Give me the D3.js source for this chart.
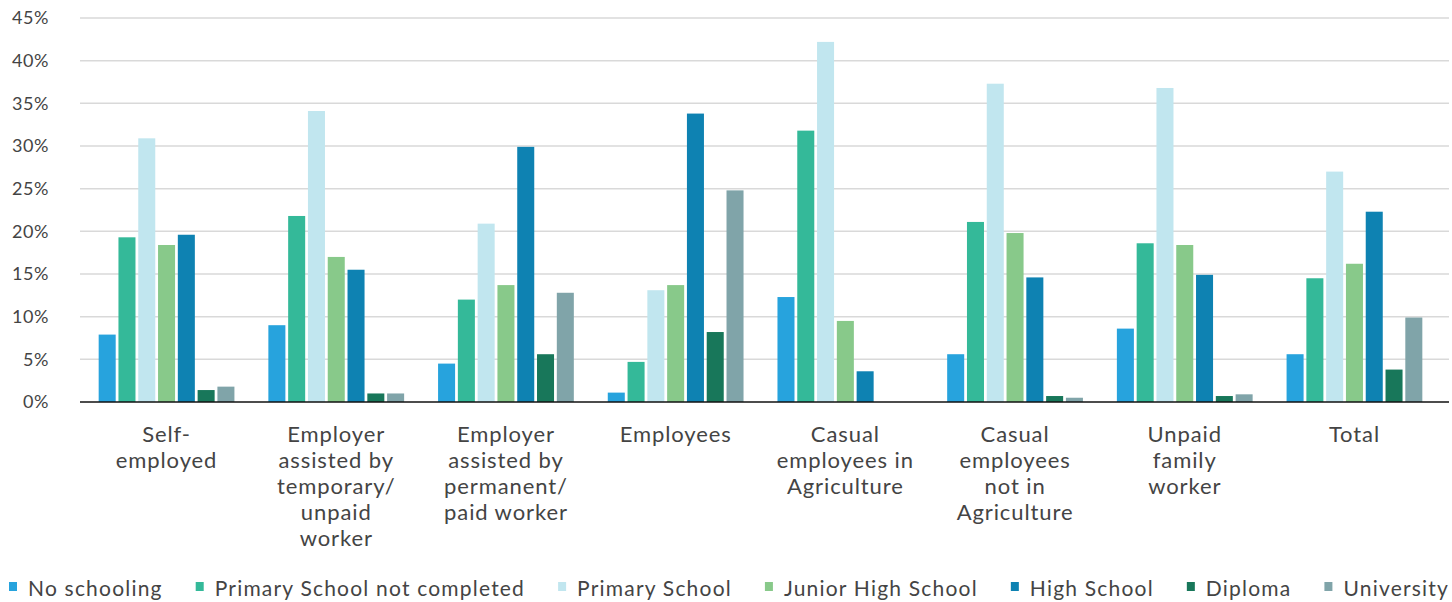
<!DOCTYPE html>
<html>
<head>
<meta charset="utf-8">
<script src="https://cdn.jsdelivr.net/npm/d3@7"></script>
<style>
  html, body { margin: 0; padding: 0; background: #fff; }
  svg { display: block; }
</style>
</head>
<body>
<svg id="chart" width="1452" height="602"></svg>
<script>
const categories = [
  "Self-|employed",
  "Employer|assisted by|temporary/|unpaid|worker",
  "Employer|assisted by|permanent/|paid worker",
  "Employees",
  "Casual|employees in|Agriculture",
  "Casual|employees|not in|Agriculture",
  "Unpaid|family|worker",
  "Total"
];
const seriesNames = ["No schooling", "Primary School not completed", "Primary School", "Junior High School", "High School", "Diploma", "University"];
const noSchooling      = [7.9, 9.0, 4.5, 1.1, 12.3, 5.6, 8.6, 5.6];
const primaryNotDone   = [19.3, 21.8, 12.0, 4.7, 31.8, 21.1, 18.6, 14.5];
const primarySchool    = [30.9, 34.1, 20.9, 13.1, 42.2, 37.3, 36.8, 27.0];
const juniorHigh       = [18.4, 17.0, 13.7, 13.7, 9.5, 19.8, 18.4, 16.2];
const highSchool       = [19.6, 15.5, 29.9, 33.8, 3.6, 14.6, 14.9, 22.3];
const diploma          = [1.4, 1.0, 5.6, 8.2, 0, 0.7, 0.7, 3.8];
const university       = [1.8, 1.0, 12.8, 24.8, 0, 0.5, 0.9, 9.9];
const yTicks = [0, 5, 10, 15, 20, 25, 30, 35, 40, 45];
const colors = ["#27a3dd", "#34b999", "#c1e6ef", "#88c98a", "#0e82b2", "#18775a", "#80a4a9"];

const seriesValues = [noSchooling, primaryNotDone, primarySchool, juniorHigh, highSchool, diploma, university];

const svg = d3.select("#chart");
const W = 1452;
const gridLeft = 80, gridRight = 1449;
const plotTop = 18, plotBottom = 402;
const textColor = "#444";

const x0 = d3.scaleBand().domain(d3.range(categories.length)).range([80, 1441]).paddingInner(0.2).paddingOuter(0.11);
const x1 = d3.scaleBand().domain(d3.range(seriesNames.length)).range([0, x0.bandwidth()]).paddingInner(0.14);
const y = d3.scaleLinear().domain([0, 45]).range([plotBottom, plotTop]);

// gridlines
svg.append("g").selectAll("line").data(yTicks.filter(t => t > 0)).join("line")
  .attr("x1", gridLeft).attr("x2", gridRight)
  .attr("y1", d => y(d)).attr("y2", d => y(d))
  .attr("stroke", "#d9d9d9").attr("stroke-width", 1.5);

// y axis labels
const yAxis = d3.axisLeft(y).tickValues(yTicks).tickFormat(d => d + "%").tickSize(0).tickPadding(0);
const ya = svg.append("g").attr("transform", `translate(49,0)`).call(yAxis);
ya.select(".domain").remove();
ya.selectAll("text").attr("font-family", "Lato, sans-serif").attr("font-size", 18)
  .attr("letter-spacing", 0.6).attr("fill", textColor);

// bars
const groups = svg.append("g").selectAll("g").data(categories).join("g")
  .attr("transform", (d, i) => `translate(${x0(i)},0)`);
groups.selectAll("rect").data((d, i) => seriesValues.map((s, j) => ({j, v: s[i]}))).join("rect")
  .attr("x", d => x1(d.j)).attr("width", x1.bandwidth())
  .attr("y", d => y(d.v)).attr("height", d => plotBottom - y(d.v))
  .attr("fill", d => colors[d.j]);

// baseline
svg.append("line").attr("x1", gridLeft).attr("x2", gridRight)
  .attr("y1", plotBottom).attr("y2", plotBottom).attr("stroke", "#111").attr("stroke-width", 1.5);

// category labels
const labels = svg.append("g").selectAll("text").data(categories).join("text")
  .attr("x", (d, i) => x0(i) + x0.bandwidth() / 2)
  .attr("y", 442)
  .attr("text-anchor", "middle")
  .attr("font-family", "Lato, sans-serif").attr("font-size", 22)
  .attr("letter-spacing", 0.9).attr("fill", textColor);
labels.each(function(d) {
  const t = d3.select(this);
  d.split("|").forEach((line, k) => {
    t.append("tspan").attr("x", t.attr("x")).attr("dy", k === 0 ? 0 : 26).text(line);
  });
});

// legend
const leg = svg.append("g");
const items = leg.selectAll("g").data(seriesNames).join("g");
items.append("rect").attr("x", 0).attr("width", 8).attr("height", 9).attr("y", -14).attr("fill", (d, i) => colors[i]);
items.append("text").attr("x", 19).attr("y", 0)
  .attr("font-family", "Lato, sans-serif").attr("font-size", 21).attr("letter-spacing", 1.2)
  .attr("fill", textColor)
  .text(d => d);
const widths = [];
items.each(function() { widths.push(19 + d3.select(this).select("text").node().getComputedTextLength()); });
const startX = 9, endX = 1449;
const total = d3.sum(widths);
const gap = (endX - startX - total) / (widths.length - 1);
let cx = startX;
items.each(function(d, i) {
  d3.select(this).attr("transform", `translate(${cx},596)`);
  cx += widths[i] + gap;
});
</script>
</body>
</html>
